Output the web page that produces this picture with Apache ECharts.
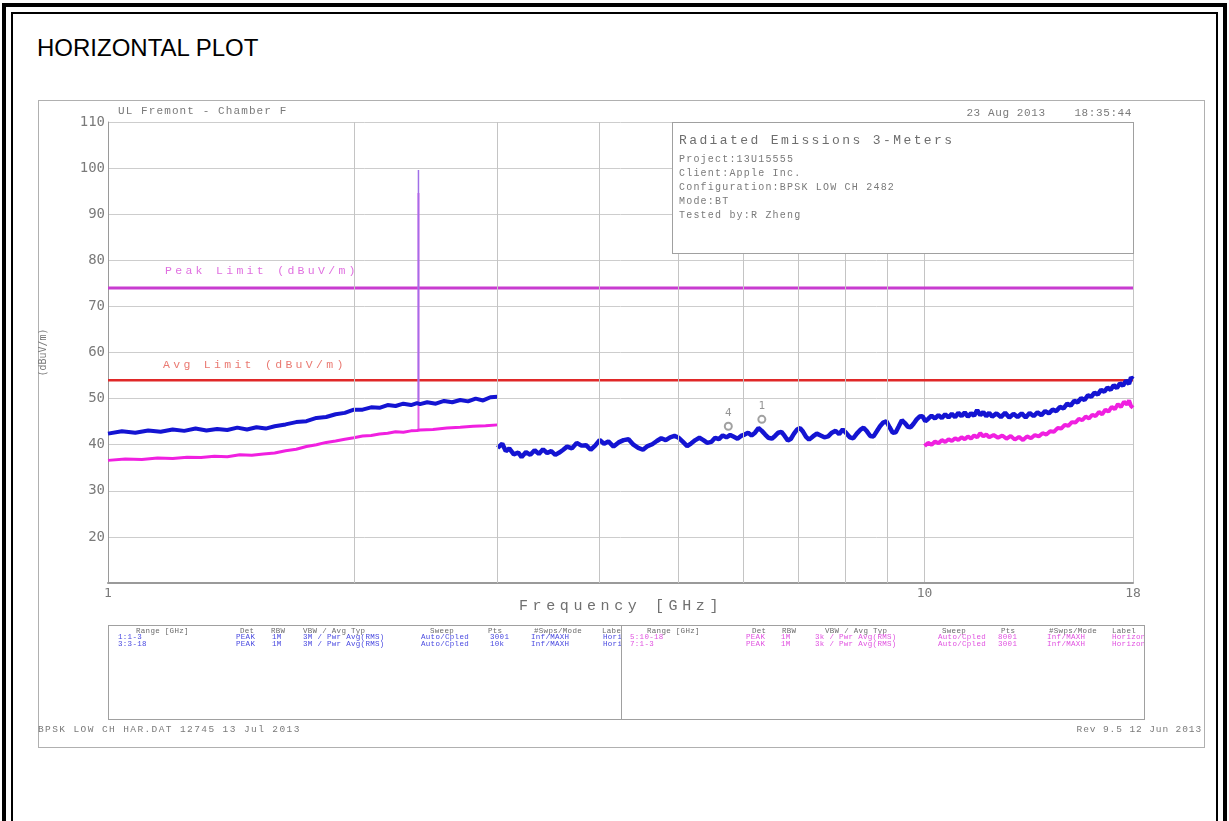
<!DOCTYPE html>
<html><head><meta charset="utf-8">
<script src="https://cdn.jsdelivr.net/npm/echarts@6/dist/echarts.min.js"></script>
<style>
html,body{margin:0;padding:0;background:#fff;}
#wrap{position:relative;width:1229px;height:821px;overflow:hidden;background:#fff;}
#chart{position:absolute;left:0;top:0;width:1229px;height:821px;}
.t{position:absolute;white-space:pre;font-family:"Liberation Mono","DejaVu Sans Mono",monospace;color:#7a7a7a;line-height:1;}
.box{position:absolute;box-sizing:border-box;}
</style>
</head><body>
<div id="wrap">
  <div class="box" style="left:2px;top:3px;width:1225px;height:840px;border:4px solid #000;"></div>
  <div class="box" style="left:11px;top:12px;width:1207px;height:840px;border:2px solid #000;"></div>
  <div class="t" id="pageTitle" style="left:37px;top:36px;font-family:'Liberation Sans',Arial,sans-serif;font-size:24px;color:#000;"></div>
  <div class="box" style="left:38px;top:100px;width:1167px;height:648px;border:1px solid #b0b0b0;"></div>
  <div class="box" style="left:108px;top:625px;width:1037px;height:95px;border:1px solid #a0a0a0;"></div>
  <div class="box" style="left:621px;top:625px;width:1px;height:95px;background:#a0a0a0;"></div>
  <div id="chart"></div>
  <div class="box" style="left:672px;top:122px;width:462px;height:132px;border:1px solid #a0a0a0;background:#fff;"></div>
  <div id="texts"></div>
</div>
<script>
// ---------------- data ----------------
const pageTitle = "HORIZONTAL PLOT";
const yTickLabels = [110, 100, 90, 80, 70, 60, 50, 40, 30, 20];
const xTickLabels = [1, 10, 18];
const gridFreqs = [2, 3, 4, 5, 6, 7, 8, 9];

// Peak trace (blue) 1-3 GHz
const bluePeakLowFreq = [1.00,1.04,1.08,1.12,1.16,1.20,1.24,1.28,1.32,1.36,1.40,1.44,1.48,1.52,1.56,1.60,1.65,1.70,1.75,1.80,1.85,1.90,1.95,2.00,2.05,2.10,2.15,2.20,2.25,2.30,2.35,2.39,2.41,2.46,2.52,2.58,2.64,2.70,2.76,2.82,2.88,2.94,3.00];
const bluePeakLowLevel = [42.4,42.9,42.6,43.1,42.8,43.3,43.0,43.5,43.1,43.4,43.2,43.7,43.3,43.8,43.5,44.0,44.4,44.9,45.1,45.8,46.0,46.6,46.9,47.6,47.6,48.1,48.0,48.6,48.4,48.9,48.6,49.0,48.8,49.2,48.9,49.5,49.2,49.7,49.4,50.0,49.6,50.3,50.4];

// Peak trace (blue) 3-18 GHz
const bluePeakHighFreq = [3.00,3.04,3.07,3.10,3.14,3.18,3.21,3.25,3.29,3.33,3.37,3.41,3.45,3.49,3.53,3.57,3.61,3.65,3.70,3.75,3.80,3.85,3.90,3.95,4.00,4.05,4.10,4.16,4.22,4.28,4.34,4.40,4.46,4.52,4.58,4.64,4.70,4.76,4.82,4.88,4.94,5.00,5.06,5.12,5.18,5.24,5.30,5.36,5.42,5.48,5.54,5.60,5.66,5.72,5.78,5.84,5.90,5.96,6.02,6.08,6.14,6.20,6.26,6.32,6.38,6.44,6.50,6.56,6.62,6.68,6.74,6.80,6.86,6.92,6.98,7.04,7.10,7.16,7.22,7.30,7.38,7.46,7.54,7.62,7.70,7.78,7.86,7.94,8.02,8.10,8.18,8.26,8.34,8.42,8.50,8.58,8.66,8.74,8.82,8.90,8.98,9.06,9.14,9.22,9.30,9.38,9.46,9.54,9.62,9.70,9.78,9.86,9.94,10.02,10.10,10.20,10.30,10.40,10.50,10.60,10.70,10.80,10.90,11.00,11.10,11.20,11.30,11.40,11.50,11.60,11.70,11.80,11.90,12.00,12.10,12.25,12.40,12.55,12.70,12.85,13.00,13.15,13.30,13.45,13.60,13.75,13.90,14.05,14.20,14.35,14.50,14.65,14.80,14.95,15.10,15.25,15.40,15.55,15.70,15.85,16.00,16.15,16.30,16.45,16.60,16.75,16.90,17.05,17.20,17.35,17.50,17.65,17.80,17.90,18.00];
const bluePeakHighLevel = [39.3,40.2,38.6,39.2,37.9,38.3,37.3,38.4,37.8,38.8,38.0,39.0,38.2,38.6,37.8,38.3,38.9,39.6,39.2,40.4,39.8,39.9,38.9,39.8,41.0,40.2,40.7,39.6,40.5,41.0,41.2,40.0,39.3,38.9,39.7,40.1,40.8,41.4,41.0,41.6,41.9,41.5,40.6,39.7,40.3,41.0,41.5,41.0,40.4,40.6,41.5,41.2,42.0,41.6,42.1,41.7,41.3,41.9,42.2,42.6,42.0,42.6,43.6,43.0,42.2,41.5,41.3,41.9,42.6,42.8,41.9,40.9,41.3,42.4,43.3,43.6,42.8,41.7,41.1,41.8,42.4,42.0,41.6,41.8,42.6,43.0,42.3,43.3,42.5,41.6,41.4,42.4,43.2,43.7,42.9,41.9,41.8,42.9,44.0,44.8,45.1,43.8,42.6,42.7,44.0,45.3,44.7,43.9,43.8,44.6,45.5,46.1,46.2,45.1,45.6,46.3,45.7,46.4,45.8,46.6,45.9,46.7,46.0,46.9,46.2,47.0,46.1,46.8,46.3,47.5,46.4,47.1,46.2,46.9,46.1,46.8,46.0,46.9,45.9,46.7,46.0,46.8,45.9,46.9,46.2,47.0,46.4,47.3,46.8,47.6,47.3,48.2,47.9,48.9,48.5,49.5,49.2,50.1,49.7,50.7,50.4,51.3,50.9,51.9,51.5,52.4,51.9,52.9,52.3,53.3,52.8,53.9,53.2,54.6,54.2];

// Average trace (magenta) 1-3 GHz
const magentaAvgLowFreq = [1.00,1.05,1.10,1.15,1.20,1.25,1.30,1.35,1.40,1.45,1.50,1.55,1.60,1.65,1.70,1.75,1.80,1.85,1.90,1.95,2.00,2.05,2.10,2.15,2.20,2.25,2.30,2.35,2.39,2.41,2.50,2.60,2.70,2.80,2.90,3.00];
const magentaAvgLowLevel = [36.6,36.9,36.8,37.1,37.0,37.3,37.2,37.5,37.4,37.8,37.7,38.0,38.2,38.7,39.0,39.6,40.0,40.5,40.8,41.2,41.5,41.9,42.0,42.3,42.5,42.8,42.7,43.0,43.1,43.2,43.3,43.6,43.8,44.0,44.1,44.3];

// Average trace (magenta) 10-18 GHz
const magentaAvgHighFreq = [10.00,10.10,10.20,10.30,10.40,10.50,10.60,10.70,10.80,10.90,11.00,11.10,11.20,11.30,11.40,11.50,11.60,11.70,11.80,11.90,12.00,12.15,12.30,12.45,12.60,12.75,12.90,13.05,13.20,13.35,13.50,13.65,13.80,13.95,14.10,14.25,14.40,14.55,14.70,14.85,15.00,15.15,15.30,15.45,15.60,15.75,15.90,16.05,16.20,16.35,16.50,16.65,16.80,16.95,17.10,17.25,17.40,17.55,17.70,17.80,17.90,18.00];
const magentaAvgHighLevel = [39.7,40.4,40.0,40.7,40.3,41.0,40.6,41.2,40.8,41.4,41.0,41.6,41.2,41.8,41.3,42.0,41.6,42.5,41.8,42.2,41.6,42.1,41.5,42.0,41.3,41.9,41.1,41.7,41.0,41.8,41.4,42.1,41.8,42.5,42.2,42.9,42.8,43.6,43.5,44.3,44.1,44.9,44.8,45.6,45.3,46.1,45.7,46.5,46.2,47.1,46.6,47.6,47.2,48.2,47.7,48.8,48.2,49.3,48.7,49.6,48.4,48.0];

// Fundamental spike at 2.40 GHz
const spikeFreq = [2.40, 2.40];
const blueSpikeLevel = [48.9, 99.6];
const magentaSpikeLevel = [43.2, 94.6];

// Limits
const limitFreq = [1, 18];
const peakLimit = [74, 74];
const avgLimit = [54, 54];
const peakLimitLabel = "Peak Limit (dBuV/m)";
const avgLimitLabel = "Avg Limit (dBuV/m)";

// Markers
const markerFreq = [5.75, 6.32];
const markerLevel = [44.0, 45.5];
const markerNames = ["4", "1"];

// Header / info texts
const headerLeft = "UL Fremont - Chamber F";
const headerRight = "23 Aug 2013    18:35:44";
const infoTitle = "Radiated Emissions 3-Meters";
const infoLines = ["Project:13U15555", "Client:Apple Inc.", "Configuration:BPSK LOW CH 2482", "Mode:BT", "Tested by:R Zheng"];
const xAxisTitle = "Frequency [GHz]";
const yAxisTitle = "(dBuV/m)";
const footerLeft = "BPSK LOW CH HAR.DAT 12745 13 Jul 2013";
const footerRight = "Rev 9.5 12 Jun 2013";

// Settings table
const tableHeader = ["Range [GHz]", "Det", "RBW", "VBW / Avg Typ", "Sweep", "Pts", "#Swps/Mode", "Label"];
const tableLeftRows = [
  ["1:1-3", "PEAK", "1M", "3M / Pwr Avg(RMS)", "Auto/Cpled", "3001", "Inf/MAXH", "Horizontal"],
  ["3:3-18", "PEAK", "1M", "3M / Pwr Avg(RMS)", "Auto/Cpled", "10k", "Inf/MAXH", "Horizontal"]
];
const tableRightRows = [
  ["5:10-18", "PEAK", "1M", "3k / Pwr Avg(RMS)", "Auto/Cpled", "8001", "Inf/MAXH", "Horizontal"],
  ["7:1-3", "PEAK", "1M", "3k / Pwr Avg(RMS)", "Auto/Cpled", "3001", "Inf/MAXH", "Horizontal"]
];

// ---------------- layout (positions only) ----------------
const leftHeaderX = [136, 240, 271, 303, 430, 488, 534, 602];
const leftRowX = [118, 236, 272, 303, 421, 490, 531, 603];
const rightHeaderX = [647, 752, 782, 825, 942, 1001, 1049, 1112];
const rightRowX = [630, 746, 781, 815, 938, 998, 1047, 1112];

const zip = (a, b) => a.map((v, i) => [v, b[i]]);

// ---------------- HTML texts ----------------
document.getElementById('pageTitle').textContent = pageTitle;
const texts = document.getElementById('texts');
function addText(str, css) {
  const d = document.createElement('div');
  d.className = 't';
  d.textContent = str;
  d.style.cssText += css;
  texts.appendChild(d);
  return d;
}
addText(headerLeft, 'left:118px;top:106px;font-size:11px;letter-spacing:1.1px;');
addText(headerRight, 'right:97px;top:108px;font-size:11px;letter-spacing:0.6px;');
addText(infoTitle, 'left:679px;top:134px;font-size:13px;letter-spacing:2.4px;color:#6e6e6e;');
infoLines.forEach((s, i) => addText(s, 'left:679px;top:' + (155 + i * 14) + 'px;font-size:10px;letter-spacing:1.2px;'));
addText(peakLimitLabel, 'left:165px;top:265px;font-size:11.5px;letter-spacing:3.3px;color:#e070e0;');
addText(avgLimitLabel, 'left:163px;top:359px;font-size:11.5px;letter-spacing:3.3px;color:#ea7a72;');
addText(xAxisTitle, 'left:519px;top:599px;font-size:15px;letter-spacing:4.6px;color:#707070;');
addText(footerLeft, 'left:38px;top:725px;font-size:9.5px;letter-spacing:1.4px;');
addText(footerRight, 'right:27px;top:725px;font-size:9.5px;letter-spacing:0.9px;');

function addTable(header, rows, hx, rx, clipL, clipR, rowColor) {
  const c = document.createElement('div');
  c.style.cssText = 'position:absolute;left:' + clipL + 'px;top:626px;width:' + (clipR - clipL) + 'px;height:30px;overflow:hidden;';
  texts.appendChild(c);
  const put = (s, x, y, col) => {
    const d = document.createElement('div');
    d.className = 't';
    d.textContent = s;
    d.style.cssText += 'left:' + (x - clipL) + 'px;top:' + y + 'px;font-size:7.5px;letter-spacing:0.3px;color:' + col + ';';
    c.appendChild(d);
  };
  header.forEach((s, i) => put(s, hx[i], 2, '#6a6a6a'));
  rows.forEach((r, j) => r.forEach((s, i) => put(s, rx[i], 8 + j * 7, rowColor)));
}
addTable(tableHeader, tableLeftRows, leftHeaderX, leftRowX, 109, 621, '#4848e0');
addTable(tableHeader, tableRightRows, rightHeaderX, rightRowX, 622, 1144, '#e050e0');

// ---------------- chart ----------------
const chart = echarts.init(document.getElementById('chart'), null, { renderer: 'canvas' });
const mono = 'DejaVu Sans Mono';
const option = {
  backgroundColor: 'transparent',
  animation: false,
  grid: { left: 108, right: 96, top: 122, bottom: 238, containLabel: false },
  xAxis: {
    type: 'log', logBase: 10, min: 1, max: 18,
    axisLine: { show: true, lineStyle: { color: '#9a9a9a', width: 2 } },
    axisTick: { show: false },
    axisLabel: {
      color: '#7a7a7a', fontFamily: mono, fontSize: 13, margin: 4,
      formatter: v => (xTickLabels.indexOf(Math.round(v)) >= 0 ? String(Math.round(v)) : '')
    },
    splitLine: { show: true, lineStyle: { color: '#c4c4c4', width: 1 } }
  },
  yAxis: {
    type: 'value', min: 10, max: 110, interval: 10,
    name: yAxisTitle, nameLocation: 'middle', nameGap: 60, nameRotate: 90,
    nameTextStyle: { color: '#7a7a7a', fontFamily: mono, fontSize: 10 },
    axisLine: { show: true, lineStyle: { color: '#9a9a9a', width: 1 } },
    axisTick: { show: false },
    axisLabel: {
      color: '#7a7a7a', fontFamily: mono, fontSize: 14, margin: 3,
      formatter: v => (yTickLabels.indexOf(v) >= 0 ? String(v) : '')
    },
    splitLine: { show: true, lineStyle: { color: '#cdcdcd', width: 1 } }
  },
  series: [
    {
      name: 'grid', type: 'line', data: [], silent: true,
      markLine: {
        silent: true, symbol: 'none', label: { show: false },
        lineStyle: { color: '#c4c4c4', width: 1, type: 'solid' },
        data: gridFreqs.map(f => ({ xAxis: f }))
      }
    },
    { name: 'Peak Limit', type: 'line', data: zip(limitFreq, peakLimit), symbol: 'none', lineStyle: { color: '#c83cd0', width: 3 } },
    { name: 'Avg Limit', type: 'line', data: zip(limitFreq, avgLimit), symbol: 'none', lineStyle: { color: '#e02828', width: 2.5 } },
    { name: 'Avg spike', type: 'line', data: zip(spikeFreq, magentaSpikeLevel), symbol: 'none', lineStyle: { color: '#e060e8', width: 2 } },
    { name: 'Peak spike', type: 'line', data: zip(spikeFreq, blueSpikeLevel), symbol: 'none', lineStyle: { color: '#a070e8', width: 1.5 } },
    { name: 'Avg 1-3', type: 'line', data: zip(magentaAvgLowFreq, magentaAvgLowLevel), symbol: 'none', lineStyle: { color: '#f020e0', width: 3 } },
    { name: 'Peak 1-3', type: 'line', data: zip(bluePeakLowFreq, bluePeakLowLevel), symbol: 'none', lineStyle: { color: '#1414d2', width: 4 } },
    { name: 'Avg 10-18', type: 'line', data: zip(magentaAvgHighFreq, magentaAvgHighLevel), symbol: 'none', lineStyle: { color: '#f020e0', width: 4 } },
    { name: 'Peak 3-18', type: 'line', data: zip(bluePeakHighFreq, bluePeakHighLevel), symbol: 'none', lineStyle: { color: '#1414d2', width: 4.5 } },
    {
      name: 'Markers', type: 'scatter', data: zip(markerFreq, markerLevel), z: 10,
      symbol: 'emptyCircle', symbolSize: 7,
      itemStyle: { color: '#8a8a8a', borderColor: '#8a8a8a', borderWidth: 1.3 },
      label: {
        show: true, position: 'top', distance: 3, color: '#7a7a7a', fontFamily: mono, fontSize: 11,
        formatter: p => markerNames[p.dataIndex]
      }
    }
  ]
};
chart.setOption(option);
</script>
</body></html>
